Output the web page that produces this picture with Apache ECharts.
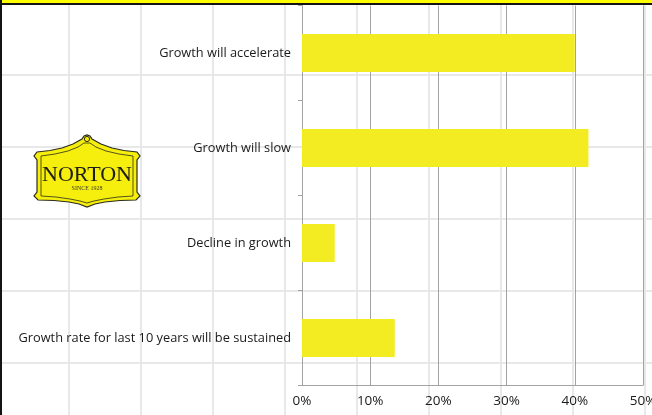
<!DOCTYPE html>
<html>
<head>
<meta charset="utf-8">
<script src="https://cdn.jsdelivr.net/npm/echarts@6/dist/echarts.min.js"></script>
<style>
  html, body { margin: 0; padding: 0; background: #ffffff; }
  #chart { width: 652px; height: 415px; }
</style>
</head>
<body>
<div id="chart"></div>
<script>
// Survey answers, top to bottom
const categories = [
  'Growth will accelerate',
  'Growth will slow',
  'Decline in growth',
  'Growth rate for last 10 years will be sustained'
];
// Share of respondents, percent
const shares = [40, 42, 4.8, 13.6];

const textFont = "'Open Sans', 'Noto Sans', sans-serif";
const axisGrey = '#a3a3a3';

// outline of the NORTON badge
const badgeOuter = [
  [37,152],[50,150.5],[62,148],[73,144],[82,139],[84,136],[87,135],[90,136],[92,139],
  [101,144],[112,148],[124,150.5],[137,152],[140,156],[137,160],[137,192],[140,196],
  [136,200],[120,200.5],[105,202],[95,204],[87,207],[79,204],[69,202],[54,200.5],
  [38,200],[34,196],[37,192],[37,160],[34,156]
];
const badgeInner = [
  [41,156],[55,154],[68,151],[78,147],[84,143],[90,143],[96,147],[106,151],[119,154],
  [133,156],[133,196],[118,197],[104,199],[94,201],[87,203],[80,201],[70,199],[56,197],[41,196]
];

const chart = echarts.init(document.getElementById('chart'), null, { renderer: 'canvas' });

chart.setOption({
  backgroundColor: '#ffffff',
  animation: false,
  grid: [
    // light backdrop lattice behind the whole page
    { left: -3, top: 3, width: 720, height: 432, outerBoundsMode: 'none' },
    // bar chart plot area
    { left: 302, right: 9, top: 5.5, bottom: 29.5, outerBoundsMode: 'none' }
  ],
  xAxis: [
    {
      gridIndex: 0, type: 'value', min: 0, max: 10, interval: 1,
      axisLine: { show: false }, axisTick: { show: false }, axisLabel: { show: false },
      splitLine: { show: true, lineStyle: { color: '#e8e8e8', width: 2 } }
    },
    {
      gridIndex: 1, type: 'value', min: 0, max: 50, interval: 10,
      axisLine: { show: true, lineStyle: { color: axisGrey, width: 1 } },
      axisTick: { show: false },
      axisLabel: {
        formatter: '{value}%', color: '#1a1a1a', fontSize: 13.5,
        fontFamily: textFont, margin: 9
      },
      splitLine: { show: true, lineStyle: { color: axisGrey, width: 1 } }
    }
  ],
  yAxis: [
    {
      gridIndex: 0, type: 'value', min: 0, max: 6, interval: 1,
      axisLine: { show: false }, axisTick: { show: false }, axisLabel: { show: false },
      splitLine: { show: true, lineStyle: { color: '#e8e8e8', width: 2 } }
    },
    {
      gridIndex: 1, type: 'category', inverse: true, data: categories,
      axisLine: { show: true, lineStyle: { color: axisGrey, width: 1 } },
      axisTick: { show: true, length: 4, lineStyle: { color: axisGrey } },
      axisLabel: { color: '#1a1a1a', fontSize: 12.8, fontFamily: textFont, margin: 11 },
      splitLine: { show: false }
    }
  ],
  series: [
    {
      type: 'line', xAxisIndex: 0, yAxisIndex: 0, data: [], silent: true, showSymbol: false
    },
    {
      type: 'bar', xAxisIndex: 1, yAxisIndex: 1, data: shares,
      barWidth: 38, silent: true,
      itemStyle: { color: '#f4ec22' }
    }
  ],
  graphic: [
    // yellow banner strip and frame
    { type: 'rect', left: 0, top: 0, z: 100, shape: { width: 652, height: 3 }, style: { fill: '#ffff00' } },
    { type: 'rect', left: 0, top: 3, z: 100, shape: { width: 652, height: 2 }, style: { fill: '#141414' } },
    { type: 'rect', left: 0, top: 0, z: 100, shape: { width: 2, height: 415 }, style: { fill: '#141414' } },
    // NORTON badge
    {
      type: 'polygon', z: 50,
      shape: { points: badgeOuter },
      style: { fill: '#f6ee0c', stroke: '#2b2b1e', lineWidth: 1.2 }
    },
    {
      type: 'polygon', z: 51,
      shape: { points: badgeInner },
      style: { fill: 'none', stroke: '#2b2b1e', lineWidth: 0.8 }
    },
    {
      type: 'circle', z: 52, shape: { cx: 87, cy: 139, r: 2.6 },
      style: { fill: '#f6ee0c', stroke: '#2b2b1e', lineWidth: 1 }
    },
    {
      type: 'text', z: 52,
      style: {
        x: 87, y: 175, text: 'NORTON', fill: '#1e1e14',
        font: "22px 'Liberation Serif', 'DejaVu Serif', serif",
        align: 'center', verticalAlign: 'middle'
      }
    },
    {
      type: 'text', z: 52,
      style: {
        x: 87, y: 188, text: 'SINCE 1928', fill: '#3a3a2a',
        font: "6px 'Liberation Serif', 'DejaVu Serif', serif",
        align: 'center', verticalAlign: 'middle'
      }
    }
  ]
});
</script>
</body>
</html>
